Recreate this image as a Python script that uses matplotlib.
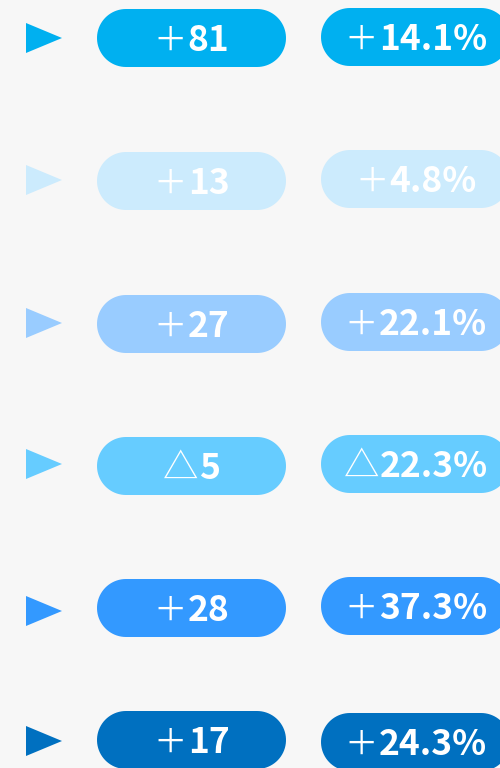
import numpy as np
import matplotlib.pyplot as plt
from matplotlib.patches import Polygon

# data
counts = [81, 13, 27, -5, 28, 17]
pcts = [14.1, 4.8, 22.1, -22.3, 37.3, 24.3]
colors = ['#00B0F0', '#CCEBFD', '#99CCFF', '#66CCFF', '#3399FF', '#0070C0']

# layout (pixels, y down)
row_y = [38, 181, 324, 466, 608, 740]
pct_dy = [-1, -2, -2, -2, -2, 2]
tri_y = [38, 180, 323, 464, 611, 741]
pill_h = 58
pill1_x, pill1_w = 97, 189
pill2_x, pill2_w = 321, 189
fs = 25.5
font = ['Noto Sans CJK JP', 'DejaVu Sans']

fig = plt.figure(figsize=(5, 7.68), dpi=100)
fig.patch.set_facecolor('#F7F7F7')
ax = fig.add_axes([0, 0, 1, 1])
ax.set_xlim(0, 500)
ax.set_ylim(768, 0)
ax.axis('off')
renderer = fig.canvas.get_renderer()


def sign(v):
    return '\uff0b' if v >= 0 else '\u25b3'


def pill(x, w, yc, color):
    r = pill_h / 2
    a = np.linspace(-np.pi / 2, np.pi / 2, 40)
    right = np.column_stack([x + w - r + r * np.cos(a), yc + r * np.sin(a)])
    left = np.column_stack([x + r - r * np.cos(a), yc - r * np.sin(a)])
    ax.add_patch(Polygon(np.vstack([right, left]), closed=True, fc=color, ec='none'))


def label(xc, yc, prefix, body):
    base = yc + 13
    plus = prefix == '\uff0b'
    pfs = 24 if plus else fs
    t1 = ax.text(0, base, prefix, fontsize=pfs, family=font,
                 color='white', va='baseline', ha='left')
    t2 = ax.text(0, base, body, fontsize=fs, family=font, weight='bold',
                 color='white', va='baseline', ha='left')
    w1 = t1.get_window_extent(renderer).width
    w2 = t2.get_window_extent(renderer).width
    x0 = xc - (w1 + w2) / 2
    t1.set_x(x0)
    t2.set_x(x0 + w1 + 0.5)


for i in range(len(counts)):
    c = colors[i]
    ty = tri_y[i]
    ax.add_patch(Polygon([[26, ty - 15], [62, ty], [26, ty + 15]],
                         closed=True, fc=c, ec='none'))
    y1 = row_y[i]
    pill(pill1_x, pill1_w, y1, c)
    label(pill1_x + pill1_w / 2, y1, sign(counts[i]), f'{abs(counts[i])}')
    y2 = row_y[i] + pct_dy[i]
    pill(pill2_x, pill2_w, y2, c)
    label(pill2_x + pill2_w / 2, y2, sign(pcts[i]), f'{abs(pcts[i]):.1f}%')

fig.savefig('out.png', dpi=100, facecolor=fig.get_facecolor())
